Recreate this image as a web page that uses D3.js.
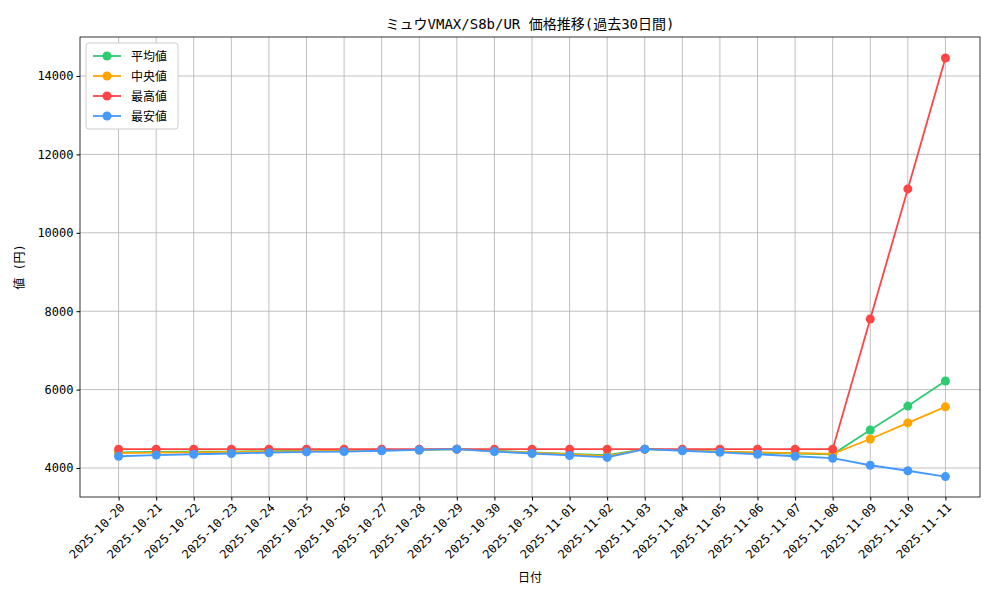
<!DOCTYPE html>
<html><head><meta charset="utf-8">
<script src="https://cdn.jsdelivr.net/npm/d3@7"></script>
<style>body{margin:0;background:#fff}text{font-family:"DejaVu Sans Mono","Noto Sans CJK JP",monospace}</style>
</head><body><svg id="c" width="1000" height="600"></svg>
<script>
const dates=["2025-10-20","2025-10-21","2025-10-22","2025-10-23","2025-10-24","2025-10-25","2025-10-26","2025-10-27","2025-10-28","2025-10-29","2025-10-30","2025-10-31","2025-11-01","2025-11-02","2025-11-03","2025-11-04","2025-11-05","2025-11-06","2025-11-07","2025-11-08","2025-11-09","2025-11-10","2025-11-11"];
const avgVals=[4400,4410,4420,4420,4430,4440,4440,4450,4460,4480,4440,4400,4360,4330,4480,4450,4420,4390,4370,4350,4970,5580,6220];
const medVals=[4380,4390,4400,4410,4420,4430,4440,4450,4460,4480,4430,4390,4350,4300,4480,4450,4420,4400,4380,4360,4740,5150,5560];
const maxVals=[4480,4480,4480,4480,4480,4480,4480,4480,4480,4480,4480,4480,4480,4480,4480,4480,4480,4480,4480,4480,7800,11120,14460];
const minVals=[4300,4330,4350,4370,4390,4410,4420,4440,4460,4480,4420,4370,4320,4270,4480,4440,4400,4350,4300,4250,4070,3930,3780];
const names=["平均値","中央値","最高値","最安値"];
const colors=["#2ecc71","#ffa500","#ff4444","#4499ff"];
const series=[avgVals,medVals,maxVals,minVals];
const yTicks=[4000,6000,8000,10000,12000,14000];

const svg=d3.select("#c");
const L=80,R=980,T=37,B=497;
const x=d3.scalePoint().domain(dates).range([81,983]).padding(1);
const y=d3.scaleLinear().domain([3260,14995]).range([B,T]);
const g=svg.append("g");
g.selectAll(".vg").data(dates).join("line").attr("x1",d=>x(d)).attr("x2",d=>x(d)).attr("y1",T).attr("y2",B).attr("stroke","#b0b0b0").attr("stroke-width",0.8);
g.selectAll(".hg").data(yTicks).join("line").attr("x1",L).attr("x2",R).attr("y1",d=>y(d)).attr("y2",d=>y(d)).attr("stroke","#b0b0b0").attr("stroke-width",0.8);
const xa=svg.append("g").attr("transform",`translate(0,${B})`).call(d3.axisBottom(x).tickSizeOuter(0).tickSize(3.5));
xa.selectAll("text").attr("transform","rotate(-45)").attr("text-anchor","end").attr("dx","-0.3em").attr("dy","0.5em").style("font-size","12px").attr("fill","#000");
xa.select(".domain").remove();
const ya=svg.append("g").attr("transform",`translate(${L},0)`).call(d3.axisLeft(y).tickValues(yTicks).tickFormat(d3.format("d")).tickSize(3.5));
ya.selectAll("text").style("font-size","12px").attr("fill","#000");
ya.select(".domain").remove();
svg.append("rect").attr("x",L).attr("y",T).attr("width",R-L).attr("height",B-T).attr("fill","none").attr("stroke","#000").attr("stroke-width",0.8);
const line=d3.line().x((d,i)=>x(dates[i])).y(d=>y(d));
series.forEach((s,k)=>{
  svg.append("path").datum(s).attr("d",line).attr("fill","none").attr("stroke",colors[k]).attr("stroke-width",1.8);
  svg.append("g").selectAll("circle").data(s).join("circle").attr("cx",(d,i)=>x(dates[i])).attr("cy",d=>y(d)).attr("r",4.5).attr("fill",colors[k]);
});
svg.append("text").attr("x",530).attr("y",29).attr("text-anchor","middle").style("font-size","14px").text("ミュウVMAX/S8b/UR 価格推移(過去30日間)");
svg.append("text").attr("x",530).attr("y",582).attr("text-anchor","middle").style("font-size","12px").text("日付");
svg.append("text").attr("transform","translate(24,267) rotate(-90)").attr("text-anchor","middle").style("font-size","12px").text("値 (円)");
const lg=svg.append("g");
lg.append("rect").attr("x",86).attr("y",43).attr("width",92).attr("height",86).attr("rx",3).attr("fill","#fff").attr("stroke","#ccc");
names.forEach((n,k)=>{
  const yy=56+k*20;
  lg.append("line").attr("x1",93).attr("x2",121).attr("y1",yy).attr("y2",yy).attr("stroke",colors[k]).attr("stroke-width",1.8);
  lg.append("circle").attr("cx",107).attr("cy",yy).attr("r",4.5).attr("fill",colors[k]);
  lg.append("text").attr("x",131).attr("y",yy+4.5).style("font-size","12px").text(n);
});
</script></body></html>
